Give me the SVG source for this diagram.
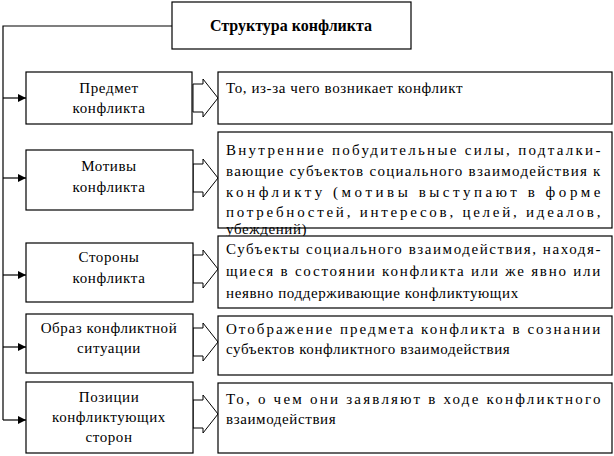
<svg xmlns="http://www.w3.org/2000/svg" width="614" height="456" viewBox="0 0 614 456">
<style>
rect{fill:#fff;stroke:#000;stroke-width:1.2}
.c{stroke:#000;stroke-width:1.2;fill:none}
.h{fill:#fff;stroke:#000;stroke-width:1}
text{font-family:"Liberation Serif","Times New Roman","DejaVu Serif",serif;font-size:15px;fill:#000;letter-spacing:0.6px}
.l{text-anchor:middle}
.t{font-weight:bold;font-size:16px;letter-spacing:0}
</style>
<defs>
<marker id="a" markerWidth="8" markerHeight="8" refX="8" refY="4" orient="auto" markerUnits="userSpaceOnUse"><path d="M0,0 L8,4 L0,8 Z" fill="#000"/></marker>
<path id="ha" d="M0,-14 H10 V-19 L25,0 L10,19 V14 H0 Z"/>
</defs>
<g id="connectors">
<path class="c" d="M172,26 H3 V420"/>
<path class="c" d="M3,98 H26" marker-end="url(#a)"/>
<path class="c" d="M3,178 H26" marker-end="url(#a)"/>
<path class="c" d="M3,275 H26" marker-end="url(#a)"/>
<path class="c" d="M3,347 H26" marker-end="url(#a)"/>
<path class="c" d="M3,420 H26" marker-end="url(#a)"/>
<use href="#ha" class="h" x="193" y="98"/>
<use href="#ha" class="h" x="193" y="178"/>
<use href="#ha" class="h" x="193" y="269"/>
<use href="#ha" class="h" x="193" y="342"/>
<use href="#ha" class="h" x="193" y="414"/>
</g>
<g id="title"><rect x="172" y="2" width="239" height="47"/><text class="l t" x="291" y="31">Структура конфликта</text></g>
<g id="n1"><rect x="26" y="72" width="166" height="52"/><text class="l" x="109" y="93">Предмет</text><text class="l" x="109" y="113">конфликта</text></g>
<g id="n2"><rect x="26" y="150" width="167" height="60"/><text class="l" x="109" y="171">Мотивы</text><text class="l" x="109" y="192">конфликта</text></g>
<g id="n3"><rect x="26" y="243" width="167" height="59"/><text class="l" x="109" y="262">Стороны</text><text class="l" x="109" y="283">конфликта</text></g>
<g id="n4"><rect x="26" y="314" width="167" height="59"/><text class="l" x="109" y="333">Образ конфликтной</text><text class="l" x="109" y="353">ситуации</text></g>
<g id="n5"><rect x="26" y="382" width="167" height="71"/><text class="l" x="109" y="402">Позиции</text><text class="l" x="109" y="422">конфликтующих</text><text class="l" x="109" y="442">сторон</text></g>
<g id="d1"><rect x="218" y="72" width="394" height="52"/><text x="226" y="93">То, из-за чего возникает конфликт</text></g>
<g id="d2"><rect x="218" y="132" width="394" height="96"/>
<text x="226" y="155" textLength="375" lengthAdjust="spacing">Внутренние побудительные силы, подталки-</text>
<text x="226" y="176" textLength="375" lengthAdjust="spacing">вающие субъектов социального взаимодействия к</text>
<text x="226" y="197" textLength="375" lengthAdjust="spacing">конфликту (мотивы выступают в форме</text>
<text x="226" y="217" textLength="375" lengthAdjust="spacing">потребностей, интересов, целей, идеалов,</text>
<text x="226" y="234">убеждений)</text></g>
<g id="d3"><rect x="218" y="236" width="394" height="72"/>
<text x="226" y="254" textLength="375" lengthAdjust="spacing">Субъекты социального взаимодействия, находя-</text>
<text x="226" y="276" textLength="375" lengthAdjust="spacing">щиеся в состоянии конфликта или же явно или</text>
<text x="226" y="298">неявно поддерживающие конфликтующих</text></g>
<g id="d4"><rect x="218" y="316" width="394" height="59"/>
<text x="226" y="334" textLength="375" lengthAdjust="spacing">Отображение предмета конфликта в сознании</text>
<text x="226" y="354">субъектов конфликтного взаимодействия</text></g>
<g id="d5"><rect x="218" y="383" width="394" height="70"/>
<text x="226" y="404" textLength="375" lengthAdjust="spacing">То, о чем они заявляют в ходе конфликтного</text>
<text x="226" y="424">взаимодействия</text></g>
</svg>
